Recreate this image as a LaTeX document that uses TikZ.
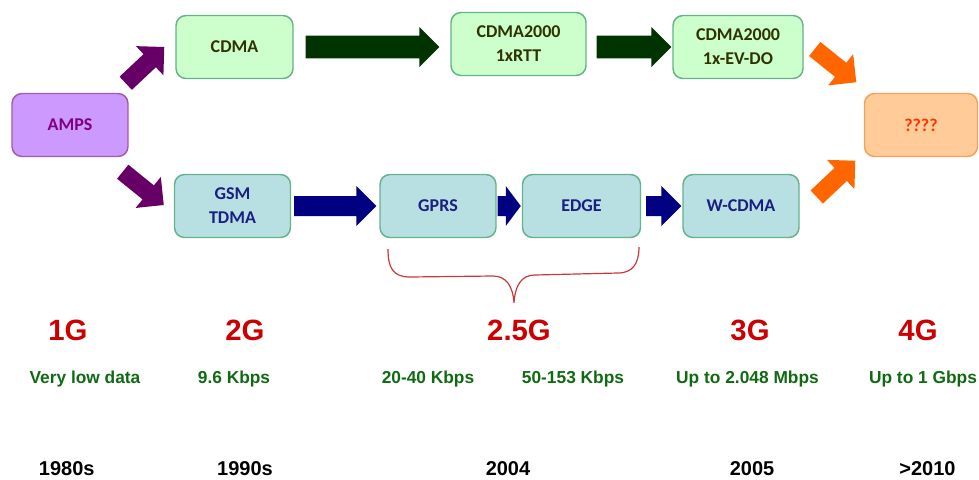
\documentclass[tikz,border=0pt]{standalone}
\usepackage{fontspec}
\setmainfont{Liberation Sans}
\newfontfamily\boxfont{Carlito}
\usetikzlibrary{calc}
\definecolor{ampsfill}{HTML}{CC99FF}
\definecolor{ampsdraw}{HTML}{A65AA6}
\definecolor{ampstext}{HTML}{800080}
\definecolor{cdmafill}{HTML}{CCFFCC}
\definecolor{boxdraw}{HTML}{66B28A}
\definecolor{cdmatext}{HTML}{2E3300}
\definecolor{gsmfill}{HTML}{B8DFE2}
\definecolor{gsmtext}{HTML}{1A1F80}
\definecolor{qfill}{HTML}{FFCC99}
\definecolor{qdraw}{HTML}{F7A05A}
\definecolor{qtext}{HTML}{FF3300}
\definecolor{purplearrow}{HTML}{660066}
\definecolor{greenarrow}{HTML}{003300}
\definecolor{navyarrow}{HTML}{000080}
\definecolor{orangearrow}{HTML}{FF6600}
\definecolor{genred}{HTML}{CC0000}
\definecolor{speedgreen}{HTML}{0F6A12}
\definecolor{bracered}{HTML}{CC3838}
\newcommand\blkarrow[6]{%
  \coordinate (bahb) at ($(#3)!#6!(#2)$);
  \fill[#1] ($(#2)!#4!90:(#3)$) -- ($(bahb)!#4!90:(#3)$) -- ($(bahb)!#5!90:(#3)$) -- (#3)
    -- ($(bahb)!#5!-90:(#3)$) -- ($(bahb)!#4!-90:(#3)$) -- ($(#2)!#4!-90:(#3)$) -- cycle;}
\tikzset{
  box/.style={rounded corners=7.5pt, line width=1.1pt, align=center, inner sep=0pt,
    minimum height=47.25pt, font=\boxfont\bfseries\fontsize{13.5}{18}\selectfont},
  ampsbox/.style={box, fill=ampsfill, draw=ampsdraw, text=ampstext},
  cdmabox/.style={box, fill=cdmafill, draw=boxdraw, text=cdmatext},
  gsmbox/.style={box, fill=gsmfill, draw=boxdraw, text=gsmtext},
  qbox/.style={box, fill=qfill, draw=qdraw, text=qtext},
  genlabel/.style={anchor=base, text=genred, font=\bfseries\fontsize{22}{26}\selectfont},
  speedlabel/.style={anchor=base, text=speedgreen, font=\bfseries\fontsize{13}{16}\selectfont},
  yearlabel/.style={anchor=base, text=black, font=\bfseries\fontsize{15}{18}\selectfont},
}
\begin{document}
\begin{tikzpicture}[x=0.75pt, y=-0.75pt]
\useasboundingbox (0,0) rectangle (979,479);
% boxes
\node[ampsbox, minimum width=87pt] (amps) at (70,125) {AMPS};
\node[cdmabox, minimum width=87.75pt] (cdma) at (234.5,47) {CDMA};
\node[cdmabox, minimum width=101.25pt] (rtt) at (518.5,44) {CDMA2000\\1xRTT};
\node[cdmabox, minimum width=97.5pt] (evdo) at (738,47) {CDMA2000\\1x-EV-DO};
\node[qbox, minimum width=84.75pt] (q) at (921,125) {????};
\node[gsmbox, minimum width=87pt] (gsm) at (232.5,206) {GSM\\TDMA};
\node[gsmbox, minimum width=87pt] (gprs) at (438,206) {GPRS};
\node[gsmbox, minimum width=88.5pt] (edge) at (581.5,206) {EDGE};
\node[gsmbox, minimum width=87pt] (wcdma) at (741,206) {W-CDMA};
% arrow end points
\coordinate (p1s) at ($(amps.north east)+(-3,-9.5)$);
\coordinate (p1e) at ($(cdma.west)+(-11,0)$);
\coordinate (p2s) at ($(amps.south east)+(-6,14.5)$);
\coordinate (p2e) at ($(gsm.west)+(-10,-1)$);
\coordinate (g1s) at ($(cdma.east)+(12,0)$);
\coordinate (g1e) at ($(cdma.east -| rtt.west)+(-11,0)$);
\coordinate (g2s) at ($(cdma.east -| rtt.east)+(10,0)$);
\coordinate (g2e) at ($(evdo.west)+(-1,0)$);
\coordinate (n1s) at ($(gsm.east)+(3,0)$);
\coordinate (n1e) at ($(gprs.west)+(-3,0)$);
\coordinate (n2s) at ($(gprs.east)+(1,0)$);
\coordinate (n2e) at ($(edge.west)+(-1,0)$);
\coordinate (n3s) at ($(edge.east)+(5,0)$);
\coordinate (n3e) at ($(wcdma.west)+(-1,0)$);
\coordinate (o1s) at ($(evdo.east)+(11,2)$);
\coordinate (o1e) at ($(q.north west)+(-7.5,-10.5)$);
\coordinate (o2s) at ($(wcdma.east)+(17,-9)$);
\coordinate (o2e) at ($(q.south west)+(-8.5,3.5)$);
% block arrows
\blkarrow{purplearrow}{p1s}{p1e}{6.75pt}{15pt}{15pt}
\blkarrow{purplearrow}{p2s}{p2e}{6.75pt}{15pt}{15pt}
\blkarrow{greenarrow}{g1s}{g1e}{8.6pt}{15pt}{15pt}
\blkarrow{greenarrow}{g2s}{g2e}{8.6pt}{15pt}{15pt}
\blkarrow{navyarrow}{n1s}{n1e}{7.5pt}{15pt}{15pt}
\blkarrow{navyarrow}{n2s}{n2e}{7.5pt}{15pt}{11.25pt}
\blkarrow{navyarrow}{n3s}{n3e}{7.5pt}{15pt}{15pt}
\blkarrow{orangearrow}{o1s}{o1e}{6.75pt}{15pt}{15pt}
\blkarrow{orangearrow}{o2s}{o2e}{6.75pt}{15pt}{15pt}
% brace
\draw[bracered, line width=0.9pt]
  (388,249) .. controls (388,268) and (393,277) .. (410,277) -- (493,276)
  .. controls (506,276) and (513,286) .. (514,303)
  .. controls (515,286) and (521,275) .. (535,275) -- (618,273)
  .. controls (633,273) and (639,263) .. (639,247);
% generation labels
\node[genlabel] (g1) at (68,340) {1G};
\node[genlabel] (g2) at (245,340) {2G};
\node[genlabel] (g25) at (519,340) {2.5G};
\node[genlabel] (g3) at (750,340) {3G};
\node[genlabel] (g4) at (918,340) {4G};
% speeds
\node[speedlabel] (s1) at (85,383) {Very low data};
\node[speedlabel] (s2) at (234,383) {9.6 Kbps};
\node[speedlabel] (s3) at (428,383) {20-40 Kbps};
\node[speedlabel] (s4) at (573,383) {50-153 Kbps};
\node[speedlabel] (s5) at (747.5,383) {Up to 2.048 Mbps};
\node[speedlabel] (s6) at (923,383) {Up to 1 Gbps};
% years
\node[yearlabel] (y1) at (66.7,475) {1980s};
\node[yearlabel] (y2) at (245,475) {1990s};
\node[yearlabel] (y3) at (508,475) {2004};
\node[yearlabel] (y4) at (752,475) {2005};
\node[yearlabel] (y5) at (927.5,475) {>2010};
\end{tikzpicture}
\end{document}
